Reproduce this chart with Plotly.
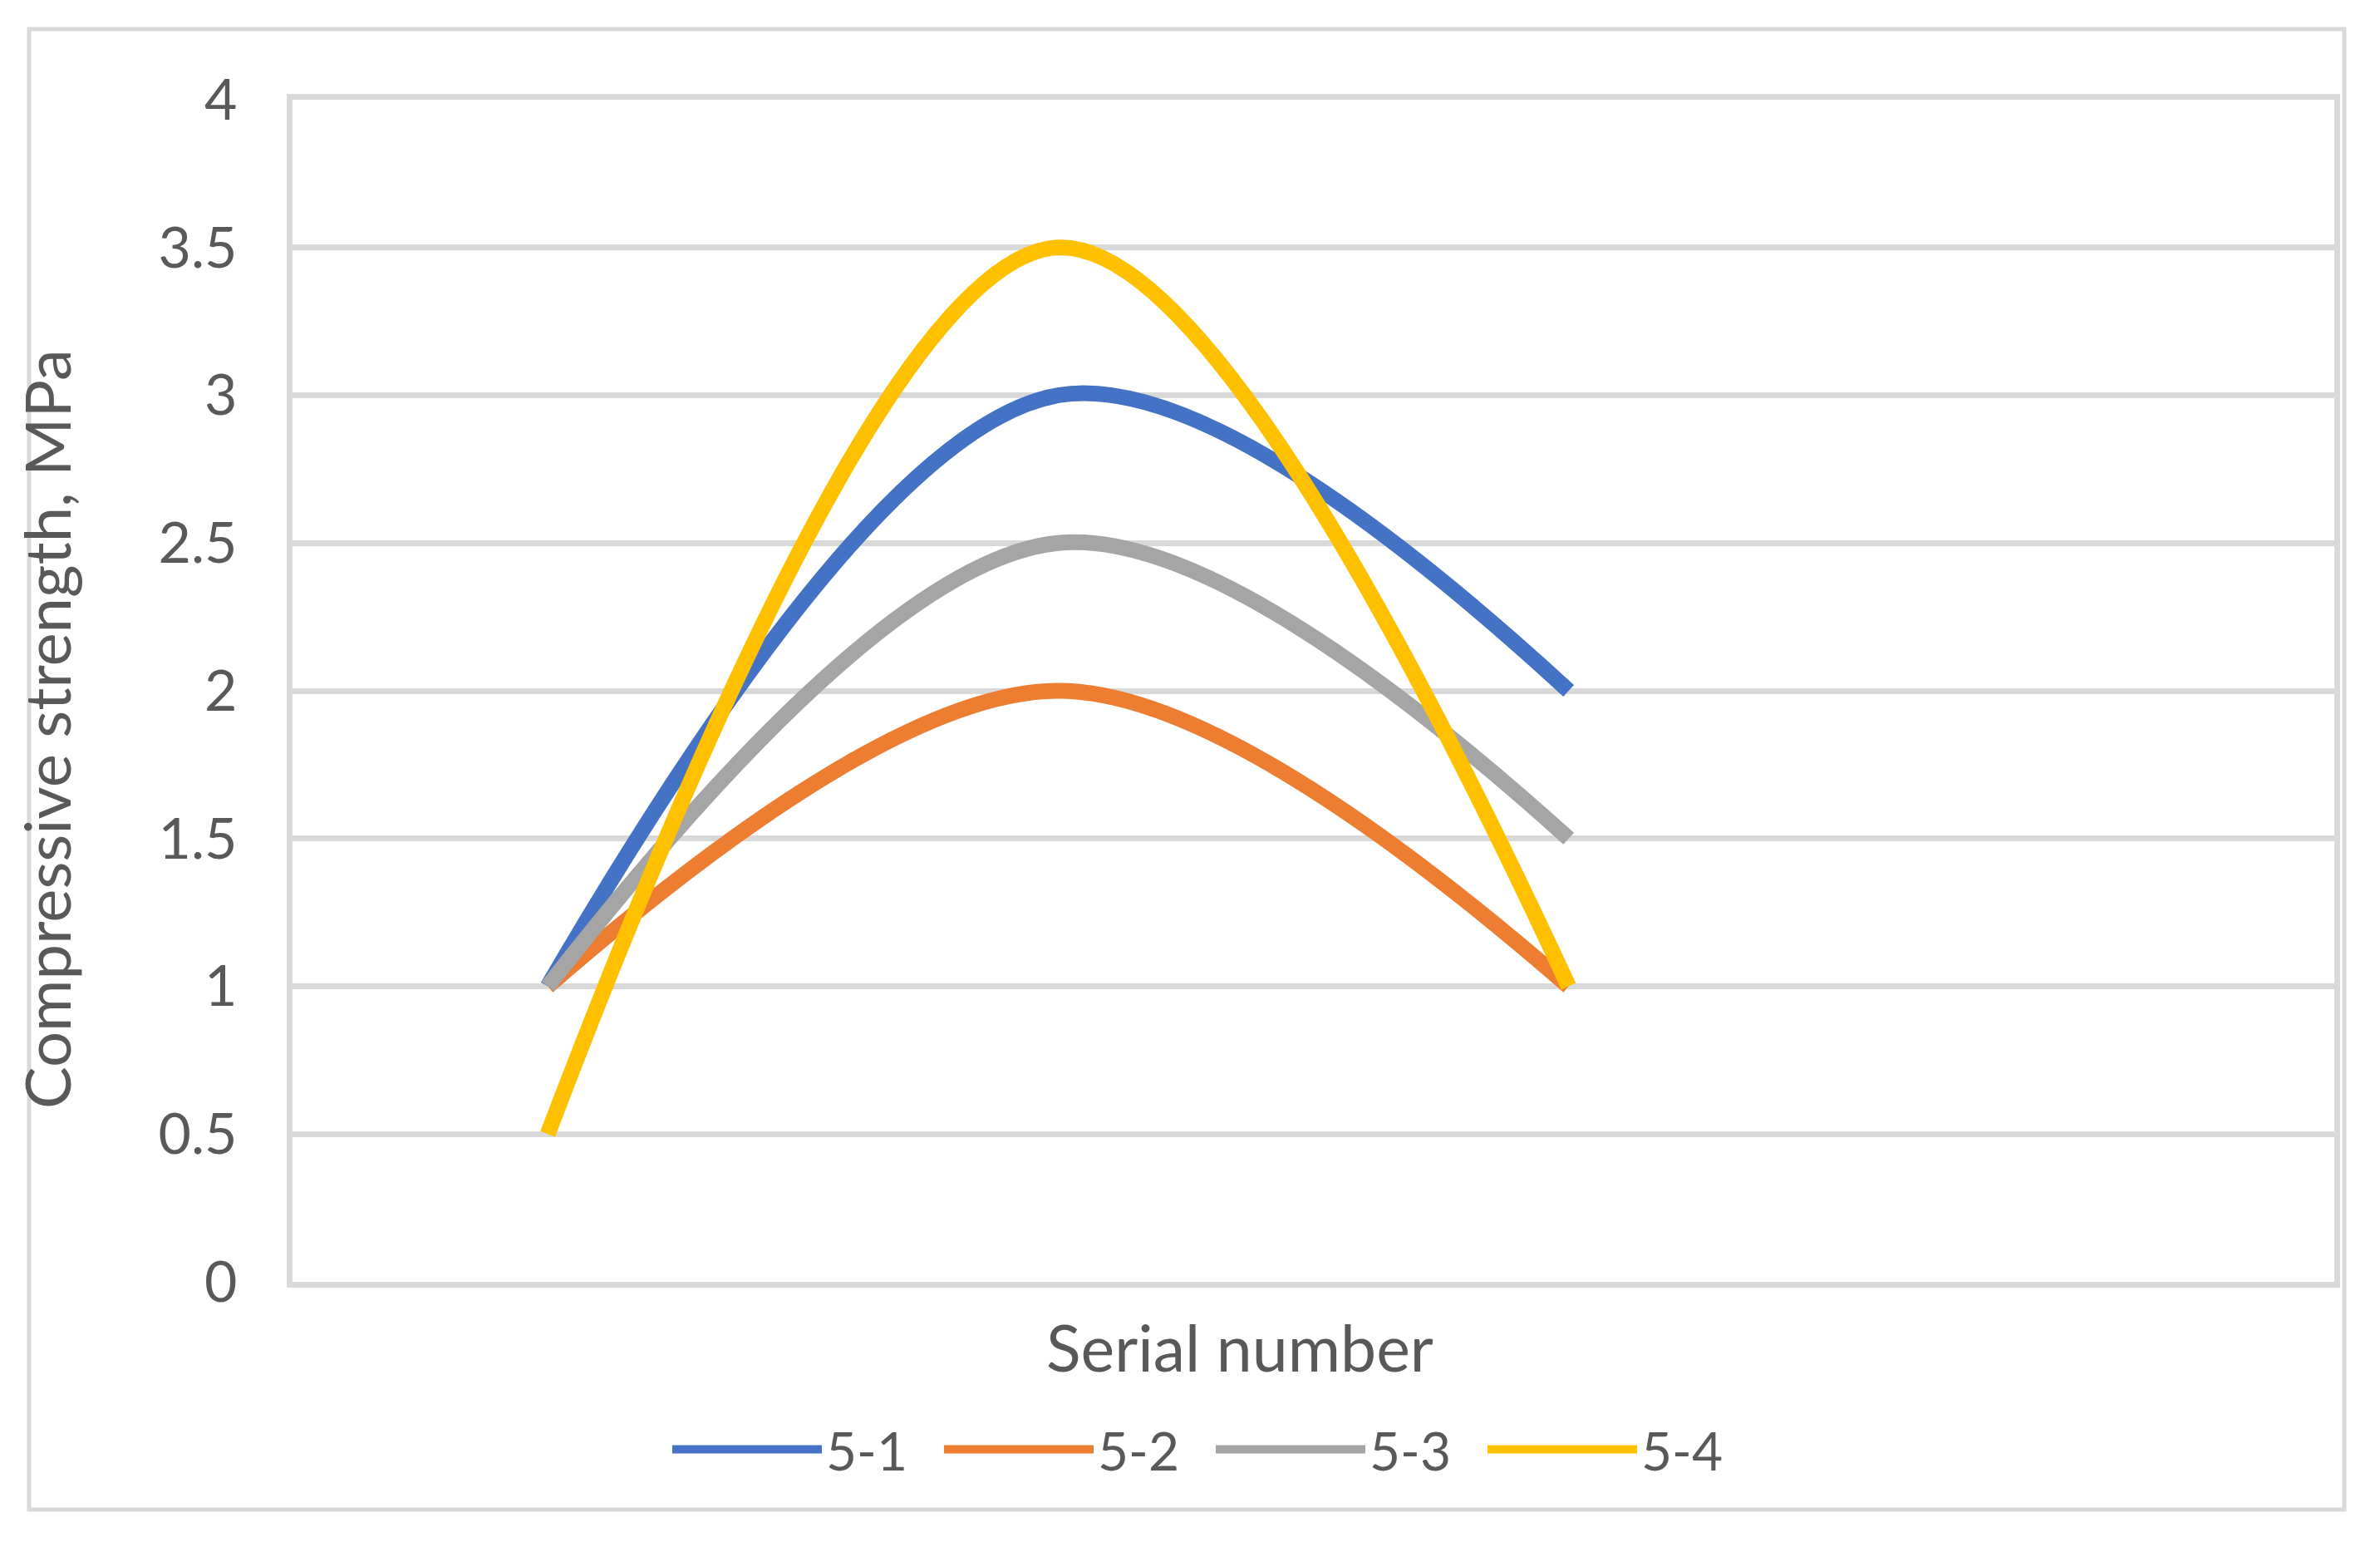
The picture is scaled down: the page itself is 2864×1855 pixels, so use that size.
import plotly.graph_objects as go

# ---- data ----
serial = [1, 2, 3]
series_names = ["5-1", "5-2", "5-3", "5-4"]
s5_1 = [1, 3, 2]
s5_2 = [1, 2, 1]
s5_3 = [1, 2.5, 1.5]
s5_4 = [0.5, 3.5, 1]
y_ticks = [0, 0.5, 1, 1.5, 2, 2.5, 3, 3.5, 4]
y_tick_labels = ["0", "0.5", "1", "1.5", "2", "2.5", "3", "3.5", "4"]

colors = ["#4472C4", "#ED7D31", "#A5A5A5", "#FFC000"]
values = [s5_1, s5_2, s5_3, s5_4]

W, H = 2864, 1855
L, R, T, B = 352, 2809, 120, 1542
pw, ph = R - L, B - T

def px(x):
    return (x - L) / pw

def py(y):
    return (B - y) / ph

fig = go.Figure()
for name, vals, col in zip(series_names, values, colors):
    fig.add_trace(go.Scatter(
        x=serial, y=vals, name=name, mode="lines",
        line=dict(color=col, width=19, shape="spline", smoothing=1),
    ))

TEXT = "#595959"
GRID = "#D9D9D9"
FONT = "Lato"

fig.update_layout(
    width=W, height=H,
    margin=dict(l=L, r=W - R, t=T, b=H - B, pad=0),
    paper_bgcolor="white", plot_bgcolor="white",
    font=dict(family=FONT, color=TEXT, size=64),
    showlegend=True,
    legend=dict(
        orientation="h", x=px(809 - 5), xanchor="left", y=py(1744), yanchor="middle",
        font=dict(family=FONT, size=64, color=TEXT),
        itemwidth=180, entrywidth=132, entrywidthmode="pixels",
        bgcolor="rgba(0,0,0,0)", tracegroupgap=0,
    ),
    xaxis=dict(
        range=[0.5, 4.5], showgrid=False, zeroline=False,
        showticklabels=False, ticks="",
        showline=True, linecolor=GRID, linewidth=7, mirror=True,
    ),
    yaxis=dict(
        range=[0, 4], tickvals=y_ticks, ticktext=y_tick_labels,
        showgrid=True, gridcolor=GRID, gridwidth=7, zeroline=False,
        showline=True, linecolor=GRID, linewidth=7, mirror=True,
        ticks="", ticklabelstandoff=46,
        tickfont=dict(family=FONT, size=68, color=TEXT),
    ),
    shapes=[dict(
        type="rect", xref="paper", yref="paper",
        x0=px(35), x1=px(2821), y0=py(1816), y1=py(35),
        line=dict(color=GRID, width=5), fillcolor="rgba(0,0,0,0)", layer="below",
    )],
    annotations=[
        dict(text="Compressive strength, MPa", textangle=-90,
             xref="paper", yref="paper", x=px(55), y=py(877),
             xanchor="center", yanchor="middle", showarrow=False,
             font=dict(family=FONT, size=76, color=TEXT)),
        dict(text="Serial number",
             xref="paper", yref="paper", x=px(1492), y=py(1620),
             xanchor="center", yanchor="middle", showarrow=False,
             font=dict(family=FONT, size=77, color=TEXT)),
    ],
)

fig.write_html("out.html")
